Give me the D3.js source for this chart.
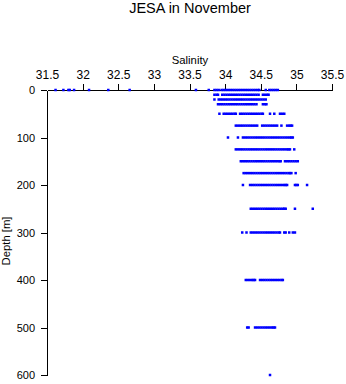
<!DOCTYPE html>
<html><head><meta charset="utf-8">
<script src="https://cdn.jsdelivr.net/npm/d3@7"></script>
<style>
html,body{margin:0;padding:0;background:#fff;}
svg{display:block;font-family:"Liberation Sans",Arial,sans-serif;}
</style></head>
<body>
<svg id="chart" width="346" height="384"></svg>
<script>
const title = "JESA in November";
const xLabel = "Salinity";
const yLabel = "Depth [m]";
const salinityTicks = [31.5, 32, 32.5, 33, 33.5, 34, 34.5, 35, 35.5];
const depthTicks = [0, 100, 200, 300, 400, 500, 600];
const depths = [0, 10, 20, 30, 50, 75, 100, 125, 150, 175, 200, 250, 300, 400, 500, 600];

const sal0 = [31.62, 31.73, 31.80, 31.82, 31.88, 32.09, 32.36, 32.66, 33.59, 33.77, 33.85, 33.88, 33.91,
  33.95, 33.98, 34.01, 34.04, 34.07, 34.10, 34.13, 34.16, 34.19, 34.22, 34.25, 34.28, 34.31, 34.34, 34.37, 34.40, 34.43, 34.46, 34.48,
  34.57, 34.62, 34.65, 34.68, 34.71, 34.74];
const sal10 = [33.85, 33.88, 33.90, 33.96, 33.99, 34.02, 34.05, 34.08, 34.11, 34.14, 34.17, 34.20, 34.23, 34.26, 34.29, 34.32,
  34.35, 34.38, 34.41, 34.44, 34.47, 34.53, 34.56, 34.59, 34.61];
const sal20 = [33.85, 33.91, 33.94, 33.97, 34.00, 34.03, 34.06, 34.09, 34.12, 34.15, 34.18, 34.21, 34.24, 34.27, 34.30, 34.33,
  34.36, 34.39, 34.42, 34.45, 34.48, 34.51, 34.54, 34.57];
const sal30 = [33.90, 33.93, 33.96, 33.99, 34.02, 34.05, 34.08, 34.11, 34.14, 34.17, 34.20, 34.23, 34.26, 34.29, 34.32, 34.35,
  34.38, 34.41, 34.44, 34.53, 34.56, 34.58];
const sal50 = [33.92, 33.98, 34.01, 34.04, 34.07, 34.10, 34.13, 34.15, 34.21, 34.24, 34.27, 34.30, 34.33, 34.36, 34.39, 34.42,
  34.45, 34.48, 34.51, 34.53, 34.63, 34.69, 34.77, 34.80, 34.83];
const sal75 = [34.15, 34.18, 34.21, 34.24, 34.27, 34.30, 34.33, 34.36, 34.39, 34.42, 34.45, 34.52, 34.55, 34.58, 34.61, 34.64,
  34.67, 34.70, 34.73, 34.79, 34.87, 34.90, 34.92, 34.94];
const sal100 = [34.04, 34.18, 34.25, 34.28, 34.31, 34.34, 34.37, 34.40, 34.43, 34.46, 34.49, 34.52, 34.55, 34.58, 34.61, 34.64,
  34.67, 34.70, 34.73, 34.76, 34.79, 34.82, 34.85, 34.88, 34.91, 34.93, 34.95];
const sal125 = [34.15, 34.18, 34.21, 34.24, 34.27, 34.30, 34.33, 34.36, 34.39, 34.42, 34.45, 34.48, 34.51, 34.54, 34.57, 34.60,
  34.63, 34.66, 34.69, 34.72, 34.75, 34.78, 34.81, 34.84, 34.87, 34.89, 34.91, 34.97];
const sal150 = [34.22, 34.25, 34.28, 34.31, 34.34, 34.37, 34.40, 34.43, 34.46, 34.49, 34.52, 34.55, 34.58, 34.61, 34.64, 34.67,
  34.70, 34.73, 34.76, 34.78, 34.84, 34.87, 34.90, 34.93, 34.96, 34.99, 35.02];
const sal175 = [34.26, 34.29, 34.32, 34.35, 34.38, 34.41, 34.44, 34.47, 34.50, 34.53, 34.56, 34.59, 34.62, 34.65, 34.68, 34.71,
  34.74, 34.77, 34.80, 34.83, 34.86, 34.89, 34.91, 34.93, 34.99];
const sal200 = [34.25, 34.35, 34.38, 34.41, 34.44, 34.47, 34.50, 34.53, 34.56, 34.59, 34.62, 34.65, 34.68, 34.71, 34.74, 34.77,
  34.80, 34.83, 34.85, 34.87, 34.98, 35.00, 35.02, 35.15];
const sal250 = [34.36, 34.39, 34.42, 34.45, 34.48, 34.51, 34.54, 34.57, 34.60, 34.63, 34.66, 34.69, 34.72, 34.75, 34.78, 34.81,
  34.83, 34.85, 34.98, 35.23];
const sal300 = [34.24, 34.30, 34.36, 34.39, 34.42, 34.45, 34.48, 34.51, 34.54, 34.57, 34.60, 34.63, 34.66, 34.69, 34.72, 34.75,
  34.77, 34.83, 34.85, 34.90, 34.95, 34.98];
const sal400 = [34.29, 34.32, 34.35, 34.38, 34.40, 34.42, 34.49, 34.52, 34.55, 34.58, 34.61, 34.64, 34.67, 34.70, 34.73, 34.76,
  34.79, 34.81];
const sal500 = [34.31, 34.33, 34.42, 34.45, 34.48, 34.51, 34.54, 34.57, 34.60, 34.63, 34.66, 34.68, 34.70];
const sal600 = [34.63];

const salinityByDepth = [sal0, sal10, sal20, sal30, sal50, sal75, sal100, sal125, sal150, sal175, sal200, sal250, sal300, sal400, sal500, sal600];

const points = [];
depths.forEach((d, i) => salinityByDepth[i].forEach(s => points.push({depth: d, salinity: s})));

const svg = d3.select("#chart");
const x = d3.scaleLinear().domain([31.5, 35.5]).range([47, 332]);
const y = d3.scaleLinear().domain([0, 600]).range([90, 375]);

svg.append("text").attr("x", 190).attr("y", 13).attr("text-anchor", "middle")
  .attr("font-size", "14.5px").attr("fill", "#000").text(title);
svg.append("text").attr("x", 190).attr("y", 63.5).attr("text-anchor", "middle")
  .attr("font-size", "11.3px").attr("fill", "#000").text(xLabel);
svg.append("text").attr("transform", "translate(10,241) rotate(-90)").attr("text-anchor", "middle")
  .attr("font-size", "11.3px").attr("fill", "#000").text(yLabel);

const xAxis = svg.append("g").attr("transform", `translate(0,${y(0)})`)
  .call(d3.axisTop(x).tickValues(salinityTicks).tickSize(6).tickSizeOuter(0).tickFormat(d3.format("")));
xAxis.selectAll(".tick text").attr("font-size", "12px").attr("font-family", "Liberation Sans, Arial, sans-serif").attr("dy", "0").attr("y", -11.5);
xAxis.selectAll(".tick").filter(d => d === 31.5).select("line").remove();

const yAxis = svg.append("g").attr("transform", `translate(${x(31.5)},0)`)
  .call(d3.axisLeft(y).tickValues(depthTicks).tickSize(6).tickSizeOuter(0));
yAxis.selectAll(".tick text").attr("font-size", "11px").attr("font-family", "Liberation Sans, Arial, sans-serif").attr("x", -12);

svg.selectAll("path.domain, .tick line").attr("shape-rendering", "crispEdges");

svg.append("g").selectAll("rect").data(points).join("rect")
  .attr("x", d => x(d.salinity) - 1.25)
  .attr("y", d => y(d.depth) - 1.25)
  .attr("width", 2.5).attr("height", 2.5)
  .attr("fill", "#0000ff");
</script>
</body></html>
